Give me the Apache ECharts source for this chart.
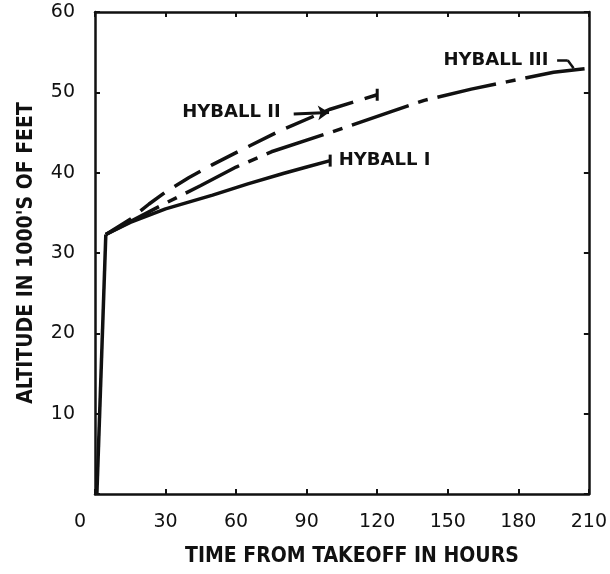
<!DOCTYPE html>
<html>
<head>
<meta charset="utf-8">
<script src="https://cdn.jsdelivr.net/npm/echarts@6/dist/echarts.min.js"></script>
<style>
  html, body { margin: 0; padding: 0; background: #fff; }
  #chart { width: 610px; height: 574px; }
</style>
</head>
<body>
<div id="chart"></div>
<script>
// time from takeoff (hours), altitude (1000's of feet)
const ascent = [[0.8, 0], [4.6, 32.3]]
const hyball1 = [[4.6, 32.3], [15, 33.8], [30, 35.5], [50, 37.2], [65, 38.6], [80, 39.9], [90, 40.7], [100, 41.5]]
const hyball2 = [[4.6, 32.3], [15, 34.2], [23, 36.1], [30, 37.6], [40, 39.4], [50, 41.0], [60, 42.5], [80, 45.4], [100, 47.9], [110, 48.8], [120, 49.7]]
const hyball3 = [[4.6, 32.3], [15, 33.9], [30, 36.2], [45, 38.4], [60, 40.7], [75, 42.6], [100, 45.0], [125, 47.5], [140, 49.0], [160, 50.4], [175, 51.3], [195, 52.5], [210, 53.0]]
const seriesNames = ['HYBALL I', 'HYBALL II', 'HYBALL III']
const xTicks = [0, 30, 60, 90, 120, 150, 180, 210]
const yTicks = [0, 10, 20, 30, 40, 50, 60]

const ink = '#111'
const tickFont = 'DejaVu Sans'
const nameFont = "'DejaVu Sans Condensed', 'DejaVu Sans', sans-serif"

const chart = echarts.init(document.getElementById('chart'), null, { renderer: 'canvas' })

// last point gets a small vertical end bar
function withEndBar (points) {
  return points.map((p, i) => {
    if (i === points.length - 1) {
      return { value: p, symbol: 'rect', symbolSize: [3, 12], itemStyle: { color: ink } }
    }
    return { value: p, symbol: 'none' }
  })
}

const textLabel = {
  show: true,
  color: ink,
  fontFamily: tickFont,
  fontWeight: 'bold',
  fontSize: 18
}

const frameAxis = {
  axisLine: { show: true, onZero: false, lineStyle: { color: ink, width: 2.5 } },
  axisTick: { show: true, inside: true, length: 5, lineStyle: { color: ink, width: 2 } },
  splitLine: { show: false }
}

const option = {
  backgroundColor: '#fff',
  animation: false,
  grid: { left: 95, right: 18, top: 12, bottom: 80 },
  xAxis: [
    {
      type: 'value',
      min: xTicks[0],
      max: xTicks[xTicks.length - 1],
      interval: 30,
      position: 'bottom',
      ...frameAxis,
      name: 'TIME FROM TAKEOFF IN HOURS',
      nameLocation: 'middle',
      nameGap: 52,
      nameTextStyle: { color: ink, fontFamily: nameFont, fontWeight: 'bold', fontSize: 21, padding: [0, 0, 0, 20] },
      axisLabel: {
        color: ink,
        fontFamily: tickFont,
        fontSize: 19,
        margin: 19,
        formatter: v => (v === 0 ? '{z|0}' : String(v)),
        rich: { z: { fontFamily: tickFont, fontSize: 19, color: ink, padding: [0, 30, 0, 0] } }
      }
    },
    {
      type: 'value',
      min: xTicks[0],
      max: xTicks[xTicks.length - 1],
      interval: 30,
      position: 'top',
      ...frameAxis,
      axisLabel: { show: false }
    }
  ],
  yAxis: [
    {
      type: 'value',
      min: yTicks[0],
      max: yTicks[yTicks.length - 1],
      interval: 10,
      position: 'left',
      ...frameAxis,
      name: "ALTITUDE IN 1000'S OF FEET",
      nameLocation: 'middle',
      nameGap: 58,
      nameTextStyle: { color: ink, fontFamily: nameFont, fontWeight: 'bold', fontSize: 21 },
      axisLabel: {
        color: ink,
        fontFamily: tickFont,
        fontSize: 19,
        margin: 20,
        formatter: v => (v === 0 ? '' : String(v))
      }
    },
    {
      type: 'value',
      min: yTicks[0],
      max: yTicks[yTicks.length - 1],
      interval: 10,
      position: 'right',
      ...frameAxis,
      axisLabel: { show: false }
    }
  ],
  series: [
    {
      name: 'ascent',
      type: 'line',
      data: ascent,
      symbol: 'none',
      lineStyle: { color: ink, width: 3.5 }
    },
    {
      name: seriesNames[0],
      type: 'line',
      data: withEndBar(hyball1),
      showSymbol: true,
      lineStyle: { color: ink, width: 3.5 },
      markPoint: {
        symbol: 'circle',
        symbolSize: 1,
        itemStyle: { color: 'rgba(0,0,0,0)' },
        label: { ...textLabel, position: 'right', distance: 8, formatter: seriesNames[0] },
        data: [{ coord: hyball1[hyball1.length - 1] }]
      }
    },
    {
      name: seriesNames[1],
      type: 'line',
      data: withEndBar(hyball2),
      showSymbol: true,
      lineStyle: { color: ink, width: 3.5, type: [30, 12] },
      markPoint: {
        symbol: 'circle',
        symbolSize: 1,
        itemStyle: { color: 'rgba(0,0,0,0)' },
        label: { ...textLabel, position: 'inside', formatter: seriesNames[1] },
        data: [{ coord: [58, 47.5] }]
      },
      markLine: {
        silent: true,
        symbol: ['none', 'arrow'],
        symbolSize: 11,
        label: { show: false },
        lineStyle: { color: ink, width: 3, type: 'solid' },
        data: [[{ coord: [84.5, 47.3] }, { coord: [99.5, 47.5] }]]
      }
    },
    {
      name: seriesNames[2],
      type: 'line',
      data: hyball3,
      symbol: 'none',
      lineStyle: { color: ink, width: 3.5, type: [60, 10, 10, 10] },
      markPoint: {
        symbol: 'circle',
        symbolSize: 1,
        itemStyle: { color: 'rgba(0,0,0,0)' },
        label: { ...textLabel, position: 'inside', formatter: seriesNames[2] },
        data: [{ coord: [170.5, 54.0] }]
      },
      markLine: {
        silent: true,
        symbol: 'none',
        label: { show: false },
        lineStyle: { color: ink, width: 2.5, type: 'solid' },
        data: [
          [{ coord: [196.5, 54.0] }, { coord: [201, 54.0] }],
          [{ coord: [201, 54.0] }, { coord: [203.5, 53.0] }]
        ]
      }
    }
  ]
}

chart.setOption(option)
</script>
</body>
</html>
